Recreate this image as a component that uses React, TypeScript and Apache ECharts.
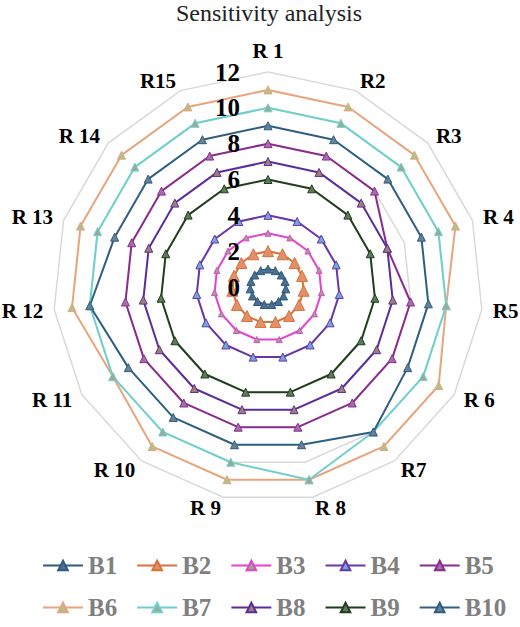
import React, { useRef, useEffect } from 'react';
import * as echarts from 'echarts';

const SERIF = "'Times New Roman', 'Liberation Serif', serif";

const indicatorNames = ['R 1', 'R2', 'R3', 'R 4', 'R5', 'R 6', 'R7', 'R 8', 'R 9', 'R 10', 'R 11', 'R 12', 'R 13', 'R 14', 'R15'];
const seriesNames = ['B1', 'B2', 'B3', 'B4', 'B5', 'B6', 'B7', 'B8', 'B9', 'B10'];

// values per indicator R1..R15
const b1 = [1, 1, 1, 1, 1, 1, 1, 1, 1, 1, 1, 1, 1, 1, 1];
const b2 = [2, 2, 2, 2, 2, 2, 2, 2, 2, 2, 2, 2, 2, 2, 2];
const b3 = [3, 3, 3, 3, 3, 3, 3, 3, 3, 3, 3, 3, 3, 3, 3];
const b4 = [4, 4, 4, 4, 4, 4, 4, 4, 4, 4, 4, 4, 4, 4, 4];
const b5 = [8, 8, 8, 7, 8, 8, 8, 8, 8, 8, 8, 8, 8, 8, 8];
const b6 = [11, 11, 11, 11, 10, 11, 11, 11, 11, 11, 10, 11, 11, 11, 11];
const b7 = [10, 10, 10, 10, 10, 10, 10, 11, 10, 10, 10, 10, 10, 10, 10];
const b8 = [7, 7, 7, 7, 7, 7, 7, 7, 7, 7, 7, 7, 7, 7, 7];
const b9 = [6, 6, 6, 6, 6, 6, 6, 6, 6, 6, 6, 6, 6, 6, 6];
const b10 = [9, 9, 9, 9, 9, 9, 10, 9, 9, 9, 9, 10, 9, 9, 9];
const allValues = [b1, b2, b3, b4, b5, b6, b7, b8, b9, b10];

const lineColors = ['#2F5A7E', '#D9713A', '#E442CF', '#6A35A8', '#8B2B8E', '#E8A47C', '#6ED0CC', '#5B2C9C', '#1F3F1B', '#2E5E80'];
const markerFills = ['#4C6F8F', '#E0916A', '#8FB07A', '#6FA8DC', '#A070A8', '#A9C48C', '#9AAA94', '#A08070', '#5C7A5C', '#6A8099'];
const markerSizes = [8, 11, 6, 8, 8, 8, 8, 8, 8, 8];

// ECharts lays radar axes counter-clockwise; keep R1 on top and go R15, R14 ... so R2 ends up on the right
const order = [0, ...indicatorNames.map((_, i) => i).slice(1).reverse()];
const reorder = <T,>(arr: T[]) => order.map((i) => arr[i]);

export default function App() {
  const chartRef = useRef<HTMLDivElement>(null);

  useEffect(() => {
    document.body.style.margin = '0';
    if (!chartRef.current) return;
    const chart = echarts.init(chartRef.current, undefined, { renderer: 'svg' });

    const legendCommon = {
      left: 42,
      itemWidth: 40,
      itemHeight: 12,
      itemGap: 19,
      padding: 0,
      textStyle: { fontFamily: SERIF, fontSize: 25, fontWeight: 'bold' as const, color: '#808080' },
    };

    const radarBase = {
      center: [268, 287],
      radius: 215,
      startAngle: 90,
      shape: 'polygon' as const,
      splitNumber: 6,
      axisLine: { show: false },
      axisTick: { show: false },
      splitArea: { show: false },
    };

    const option: echarts.EChartsOption = {
      animation: false,
      backgroundColor: '#fff',
      title: {
        text: 'Sensitivity analysis',
        left: 269,
        textAlign: 'center',
        top: 1,
        padding: 0,
        textStyle: { fontFamily: SERIF, fontSize: 24, fontWeight: 'normal', color: '#222' },
      },
      legend: [
        { ...legendCommon, data: seriesNames.slice(0, 5), top: 553 },
        { ...legendCommon, data: seriesNames.slice(5), top: 595 },
      ],
      grid: { show: false, left: 0, top: 0, width: 1, height: 1 },
      xAxis: { type: 'category', show: false, data: [] },
      yAxis: { type: 'value', show: false },
      radar: [
        {
          ...radarBase,
          nameGap: 11,
          axisName: { color: '#000', fontFamily: SERIF, fontSize: 21, fontWeight: 'bold' },
          axisLabel: { show: false },
          splitLine: { lineStyle: { color: '#D9D9D9', width: 1.5 } },
          indicator: reorder(indicatorNames).map((name) => ({ name, min: 0, max: 12 })),
        },
        {
          // same geometry, drawn above the series, only for the value labels on R 1
          ...radarBase,
          z: 10,
          axisName: { show: false },
          axisLabel: { show: false },
          splitLine: { show: false },
          indicator: reorder(indicatorNames).map((name, i) => ({
            name,
            min: 0,
            max: 12,
            ...(i === 0
              ? {
                  axisLabel: {
                    show: true,
                    fontFamily: SERIF,
                    fontSize: 25,
                    fontWeight: 'bold',
                    color: '#000',
                    margin: 8,
                    padding: [0, 20, 0, 0],
                  },
                }
              : {}),
          })),
        },
      ],
      series: [
        // empty line series only to give the legend a line + triangle icon
        ...seriesNames.map((name, i) => ({
          type: 'line' as const,
          name,
          data: [],
          symbol: 'triangle',
          symbolSize: markerSizes[i],
          lineStyle: { color: lineColors[i], width: 2.5 },
          itemStyle: { color: markerFills[i], borderColor: lineColors[i], borderWidth: 1 },
        })),
        ...seriesNames.map((name, i) => ({
          type: 'radar' as const,
          name,
          radarIndex: 0,
          symbol: 'triangle',
          symbolSize: markerSizes[i],
          lineStyle: { color: lineColors[i], width: 2 },
          itemStyle: { color: markerFills[i], borderColor: lineColors[i], borderWidth: 1 },
          data: [{ name, value: reorder(allValues[i]) }],
        })),
      ],
    };

    chart.setOption(option);
    return () => chart.dispose();
  }, []);

  return <div ref={chartRef} style={{ width: 520, height: 627 }} />;
}
